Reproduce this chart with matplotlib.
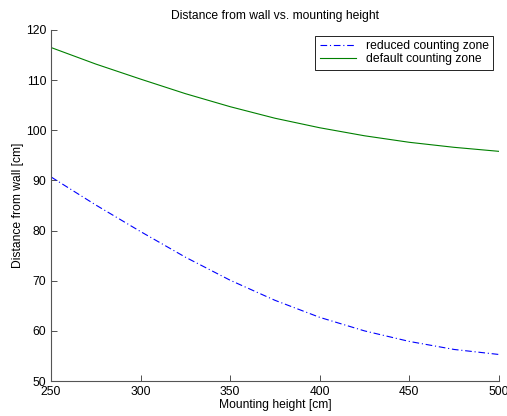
import matplotlib
matplotlib.use('Agg')
import matplotlib.pyplot as plt
import numpy as np

plt.rcParams['font.family'] = ['Liberation Sans', 'DejaVu Sans']

# mounting height [cm]
height = [250, 275, 300, 325, 350, 375, 400, 425, 450, 475, 500]
# distance from wall [cm]
reduced = [90.7, 85.1, 79.8, 74.7, 70.1, 66.1, 62.7, 60.0, 57.9, 56.3, 55.3]
default = [116.5, 113.2, 110.2, 107.3, 104.7, 102.4, 100.5, 98.9, 97.6, 96.6, 95.8]

xticks = [250, 300, 350, 400, 450, 500]
yticks = [50, 60, 70, 80, 90, 100, 110, 120]

fs = 8.7

fig = plt.figure(figsize=(5.07, 4.16), dpi=100)
ax = fig.add_axes([0.1006, 0.084, 0.8834, 0.844])

ax.plot(height, reduced, color='b', linestyle='-.', linewidth=0.8,
        dashes=(6, 2.5, 1, 2.5), label='reduced counting zone')
ax.plot(height, default, color=(0, 0.5, 0), linestyle='-', linewidth=0.8,
        label='default counting zone')

ax.set_xlim(250, 500)
ax.set_ylim(50, 120)
ax.set_xticks(xticks)
ax.set_yticks(yticks)
ax.tick_params(direction='in', length=4, width=0.6, labelsize=fs, colors='#333333',
               labelcolor='black')
ax.spines['top'].set_visible(False)
ax.spines['right'].set_visible(False)
for s in ['left', 'bottom']:
    ax.spines[s].set_color('#555555')
    ax.spines[s].set_linewidth(0.8)

ax.set_title('Distance from wall vs. mounting height', fontsize=fs, pad=8)
ax.set_xlabel('Mounting height [cm]', fontsize=fs, labelpad=1)
ax.set_ylabel('Distance from wall [cm]', fontsize=fs, labelpad=1)

leg = ax.legend(loc='upper right', fontsize=fs, fancybox=False, framealpha=1,
                edgecolor='black', handlelength=3.0, borderpad=0.35,
                labelspacing=0.1, borderaxespad=0.5)
leg.get_frame().set_linewidth(0.6)

fig.savefig('out.png', dpi=100)
